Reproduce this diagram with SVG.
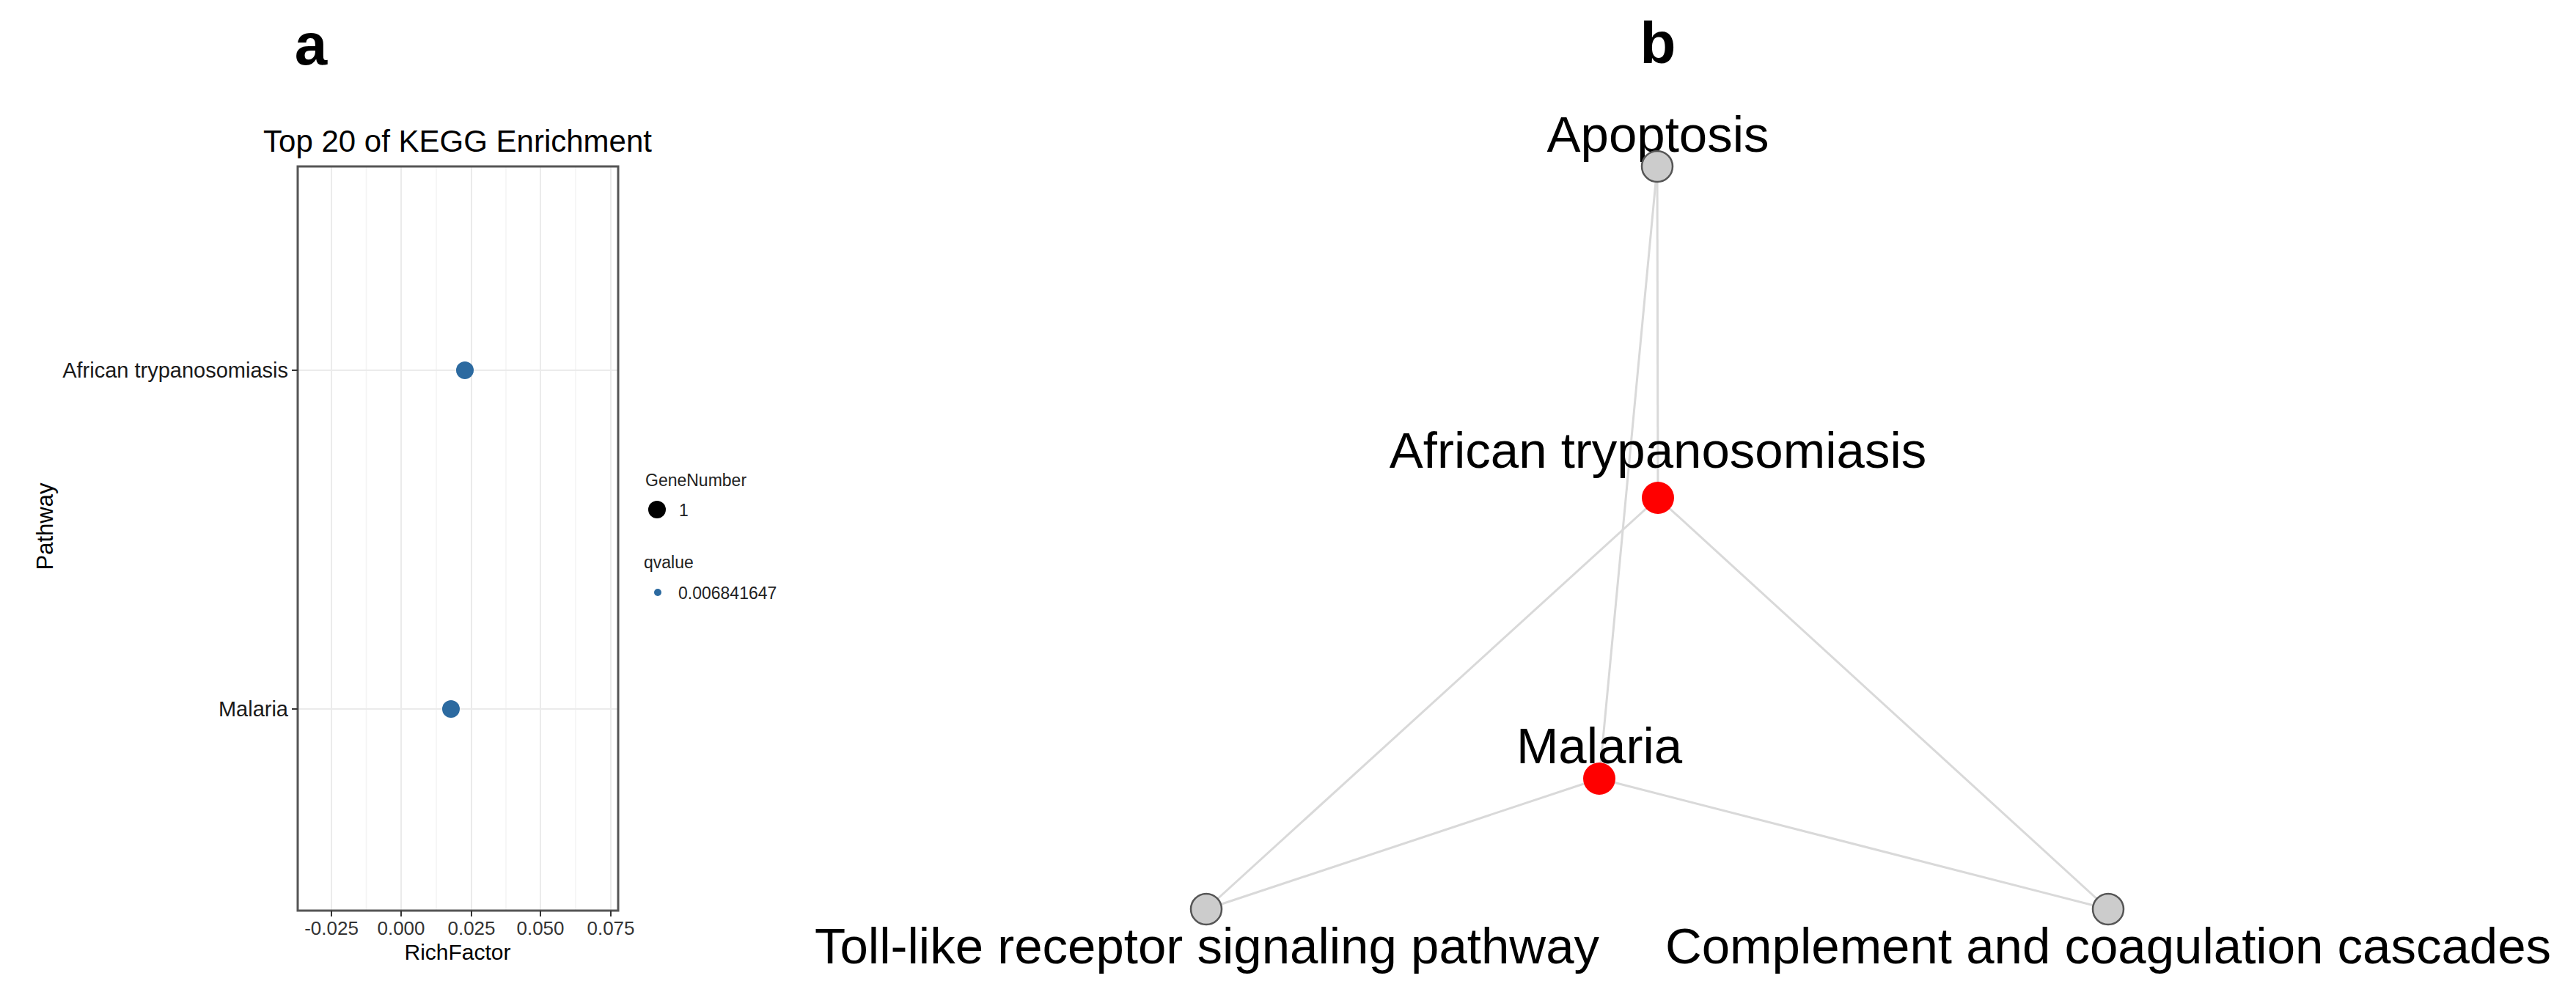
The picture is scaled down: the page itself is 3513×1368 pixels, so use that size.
<svg xmlns="http://www.w3.org/2000/svg" width="3513" height="1368" viewBox="0 0 3513 1368">
<style>
text{font-family:"Liberation Sans",Arial,sans-serif;fill:#000}
.grid{stroke:#ebebeb;stroke-width:2}
.gridm{stroke:#f3f3f3;stroke-width:1.5}
.tick{font-size:26px;fill:#333;text-anchor:middle}
.lab{font-size:29px;fill:#1a1a1a;text-anchor:end}
.leg{font-size:23px;fill:#222}
.edge{stroke:#d9d9d9;stroke-width:3;fill:none}
.gray{fill:#cccccc;stroke:#555;stroke-width:2.5}
.red{fill:#ff0000}
.nl{font-size:69px;text-anchor:middle}
</style>
<text x="424" y="88" font-size="80" font-weight="bold" text-anchor="middle">a</text>
<text x="2261" y="86" font-size="80" font-weight="bold" text-anchor="middle">b</text>
<g id="plot">
<text x="624" y="207" font-size="42" text-anchor="middle" fill="#111">Top 20 of KEGG Enrichment</text>
<rect x="406" y="227" width="437" height="1015" fill="#fff"/>
<g class="gridm">
<line x1="499.5" y1="227" x2="499.5" y2="1242"/><line x1="595" y1="227" x2="595" y2="1242"/><line x1="690" y1="227" x2="690" y2="1242"/><line x1="785" y1="227" x2="785" y2="1242"/>
</g>
<g class="grid">
<line x1="452" y1="227" x2="452" y2="1242"/><line x1="547" y1="227" x2="547" y2="1242"/><line x1="643" y1="227" x2="643" y2="1242"/><line x1="737" y1="227" x2="737" y2="1242"/><line x1="833" y1="227" x2="833" y2="1242"/>
<line x1="406" y1="505" x2="843" y2="505"/><line x1="406" y1="967" x2="843" y2="967"/>
</g>
<rect x="406" y="227" width="437" height="1015" fill="none" stroke="#555" stroke-width="3"/>
<g stroke="#333" stroke-width="2">
<line x1="398" y1="505" x2="406" y2="505"/><line x1="398" y1="967" x2="406" y2="967"/>
<line x1="452" y1="1242" x2="452" y2="1250"/><line x1="547" y1="1242" x2="547" y2="1250"/><line x1="643" y1="1242" x2="643" y2="1250"/><line x1="737" y1="1242" x2="737" y2="1250"/><line x1="833" y1="1242" x2="833" y2="1250"/>
</g>
<circle cx="634" cy="505" r="12" fill="#2c6aa0"/>
<circle cx="615" cy="967" r="12" fill="#2c6aa0"/>
<text class="lab" x="393" y="515">African trypanosomiasis</text>
<text class="lab" x="393" y="977">Malaria</text>
<text class="tick" x="452" y="1275">-0.025</text>
<text class="tick" x="547" y="1275">0.000</text>
<text class="tick" x="643" y="1275">0.025</text>
<text class="tick" x="737" y="1275">0.050</text>
<text class="tick" x="833" y="1275">0.075</text>
<text x="624" y="1309" font-size="30" text-anchor="middle" fill="#222">RichFactor</text>
<text x="0" y="0" font-size="31" text-anchor="middle" fill="#222" transform="translate(72,718) rotate(-90)">Pathway</text>
</g>
<g id="legend">
<text class="leg" x="880" y="663">GeneNumber</text>
<circle cx="896" cy="695" r="12" fill="#000"/>
<text class="leg" x="926" y="704">1</text>
<text class="leg" x="878" y="775">qvalue</text>
<circle cx="897" cy="808" r="5" fill="#2c6aa0"/>
<text class="leg" x="925" y="817">0.006841647</text>
</g>
<g id="connectors">
<line class="edge" x1="2260" y1="227" x2="2261" y2="679"/>
<line class="edge" x1="2260" y1="227" x2="2181" y2="1062"/>
<line class="edge" x1="2261" y1="679" x2="1645" y2="1240"/>
<line class="edge" x1="2261" y1="679" x2="2875" y2="1240"/>
<line class="edge" x1="2181" y1="1062" x2="1645" y2="1240"/>
<line class="edge" x1="2181" y1="1062" x2="2875" y2="1240"/>
</g>
<g id="n-apoptosis"><text class="nl" x="2261" y="207">Apoptosis</text><circle class="gray" cx="2260" cy="227" r="21"/></g>
<g id="n-african"><text class="nl" x="2261" y="638">African trypanosomiasis</text><circle class="red" cx="2261" cy="679" r="22"/></g>
<g id="n-malaria"><text class="nl" x="2181" y="1041">Malaria</text><circle class="red" cx="2181" cy="1062" r="22"/></g>
<g id="n-toll"><circle class="gray" cx="1645" cy="1240" r="21"/><text class="nl" x="1646" y="1314">Toll-like receptor signaling pathway</text></g>
<g id="n-complement"><circle class="gray" cx="2875" cy="1240" r="21"/><text class="nl" x="2875" y="1314">Complement and coagulation cascades</text></g>
</svg>
